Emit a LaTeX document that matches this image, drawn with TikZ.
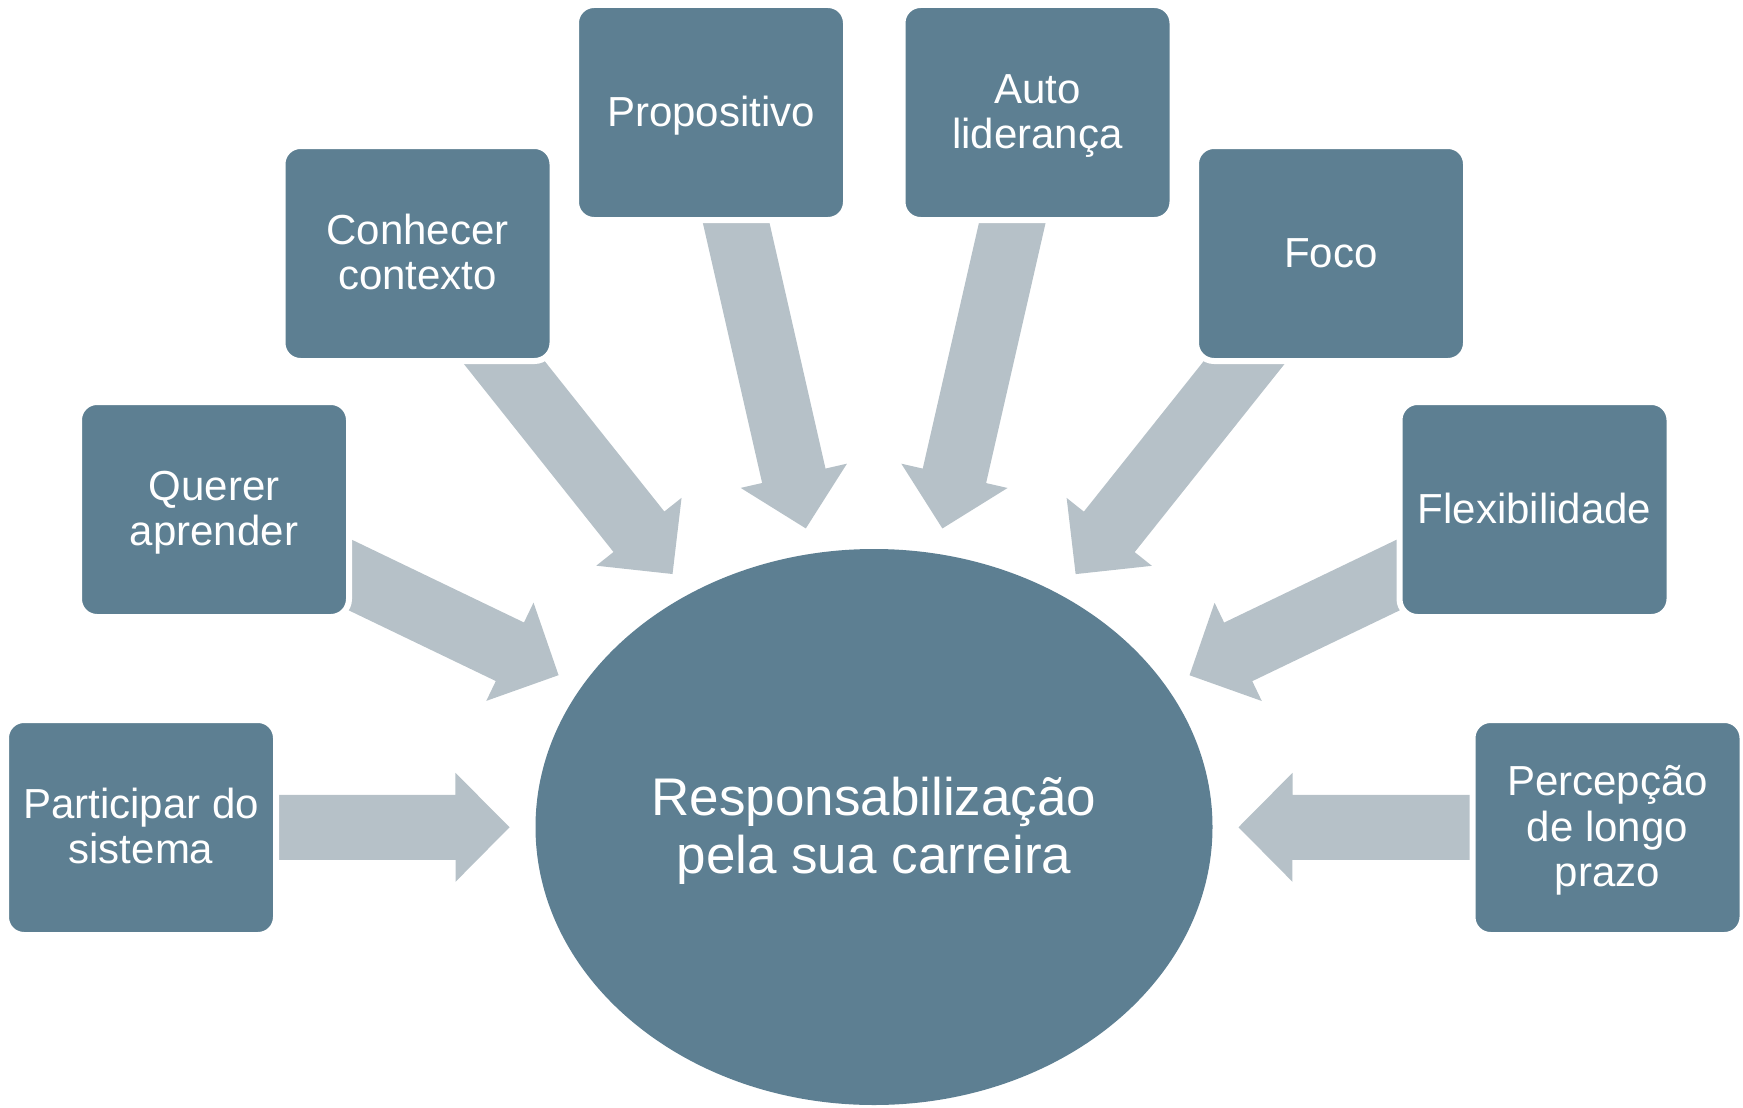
\documentclass[tikz,border=0pt]{standalone}
\usepackage{fontspec}
\setmainfont{Liberation Sans}
\usetikzlibrary{calc,shapes.geometric}
\definecolor{boxc}{RGB}{93,127,146}
\definecolor{arrc}{RGB}{182,193,200}
\pgfdeclarelayer{bg}
\pgfsetlayers{bg,main}
\newcommand\bs{\rule[-8.8pt]{0pt}{45pt}}
\newcommand\hs{\rule[-10.8pt]{0pt}{56.5pt}}
\newcommand\radarrow[2]{%
  \path (hub) -- (#1) coordinate[pos=0] (#2e);
  \coordinate (#2t) at ($(#2e)!26pt!(#1)$);
  \coordinate (#2h) at ($(#2t)!54pt!(#1)$);
  \fill[arr] ($(#2h)!54.5pt!90:(#1)$) -- (#2t) -- ($(#2h)!54.5pt!-90:(#1)$)
    -- ($(#2h)!32.5pt!-90:(#1)$) -- ($(#1)!32.5pt!90:(#2t)$)
    -- ($(#1)!32.5pt!-90:(#2t)$) -- ($(#2h)!32.5pt!90:(#1)$) -- cycle;
}
\begin{document}
\begin{tikzpicture}[x=1pt,y=-1pt,
  box/.style={rectangle, rounded corners=18pt, fill=boxc, draw=white, line width=6pt,
    minimum width=270pt, minimum height=215pt, inner sep=0pt, outer sep=0pt,
    text=white, align=center, font=\fontsize{42}{45}\selectfont},
  hub/.style={ellipse, fill=boxc, minimum width=677pt, minimum height=556pt,
    inner sep=0pt, outer sep=0pt, text=white, align=center,
    font=\fontsize{53}{56.5}\selectfont},
  arr/.style={fill=arrc}]
\useasboundingbox (0,0) rectangle (1743,1108);
\node[hub] (hub) at (874,827) {\hs Responsabilização\\\hs pela sua carreira};
\node[box] (p1) at (141,827.5) {\bs Participar do\\\bs sistema};
\node[box] (p2) at (214,509.5) {\bs Querer\\\bs aprender};
\node[box] (p3) at (417.5,253.5) {\bs Conhecer\\\bs contexto};
\node[box] (p4) at (711,112.5) {\bs Propositivo};
\node[box] (p5) at (1037.5,112.5) {\bs Auto\\\bs liderança};
\node[box] (p6) at (1331,253.5) {\bs Foco};
\node[box] (p7) at (1534.5,509.5) {\bs Flexibilidade};
\node[box] (p8) at (1607.5,827.5) {\bs Percepção\\\bs de longo\\\bs prazo};
\begin{pgfonlayer}{bg}
\radarrow{p1}{a1}
\radarrow{p2}{a2}
\radarrow{p3}{a3}
\radarrow{p4}{a4}
\radarrow{p5}{a5}
\radarrow{p6}{a6}
\radarrow{p7}{a7}
\radarrow{p8}{a8}
\end{pgfonlayer}
\end{tikzpicture}
\end{document}
